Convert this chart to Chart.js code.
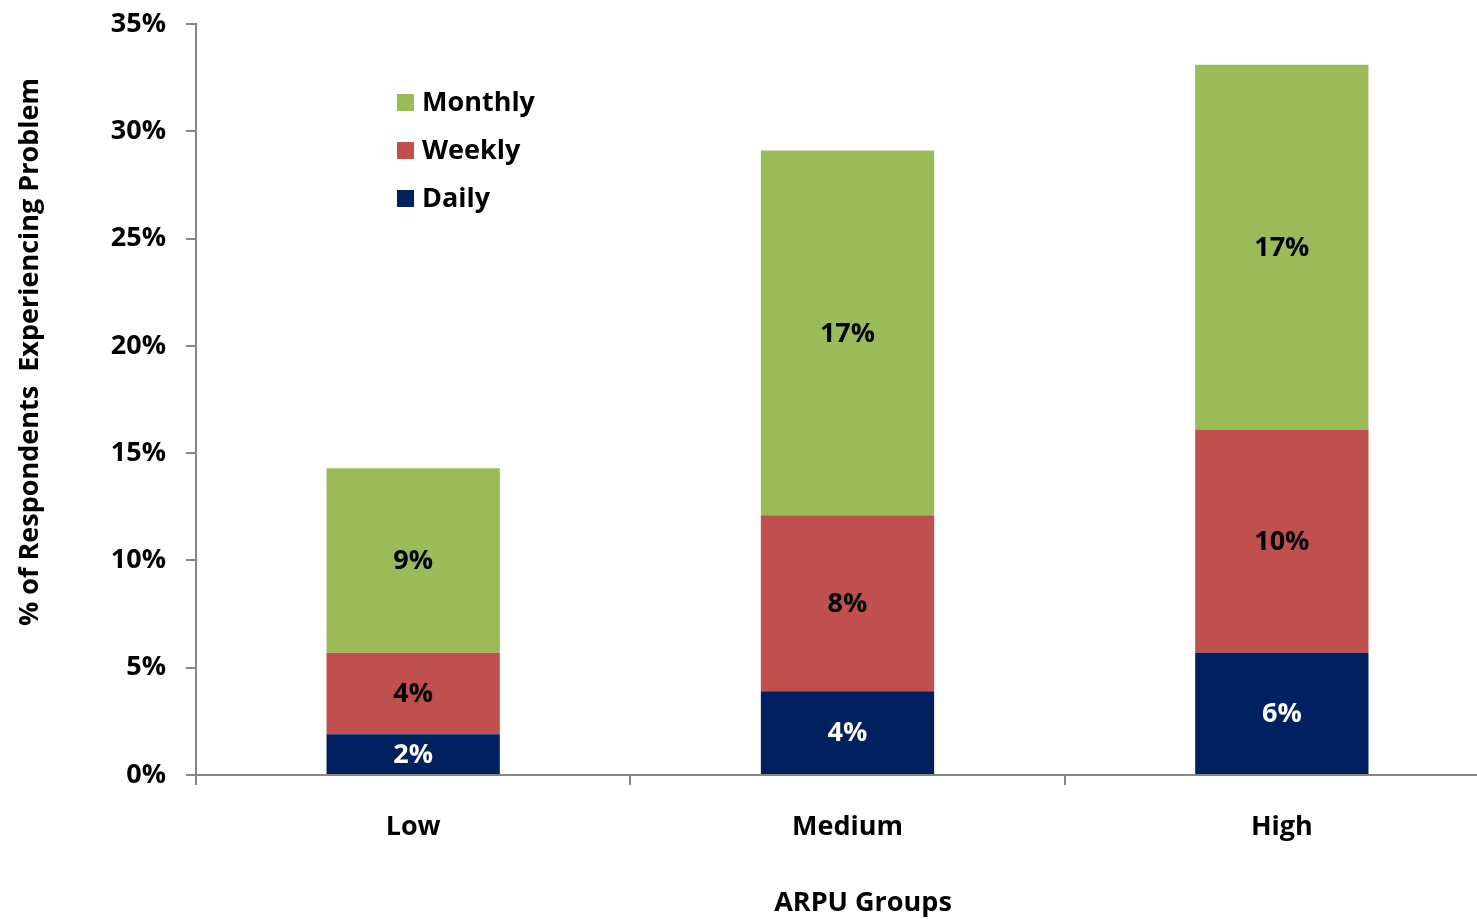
<!DOCTYPE html>
<html>
<head>
<meta charset="utf-8">
<script src="https://cdn.jsdelivr.net/npm/chart.js@4.4.1/dist/chart.umd.min.js"></script>
<style>
html,body{margin:0;padding:0;background:#fff;overflow:hidden;}
#wrap{position:relative;width:1477px;height:919px;overflow:hidden;}
#c{position:absolute;left:0;top:0;}
</style>
</head>
<body>
<div id="wrap"><canvas id="c" width="1499" height="919"></canvas></div>
<script>
const categories = ['Low', 'Medium', 'High'];
const dailyValues = [1.9, 3.9, 5.7];
const weeklyValues = [3.8, 8.2, 10.4];
const monthlyValues = [8.6, 17.0, 17.0];
const yTickValues = [0, 5, 10, 15, 20, 25, 30, 35];
const yAxisTitle = '% of Respondents  Experiencing Problem';
const xAxisTitle = 'ARPU Groups';

const FONT = "'Open Sans', 'Liberation Sans', sans-serif";
const AXIS_COLOR = '#868686';
const FS = 27;

const datasets = [
  {label: 'Daily', data: dailyValues, backgroundColor: '#002060', labelColor: '#ffffff'},
  {label: 'Weekly', data: weeklyValues, backgroundColor: '#C0504D', labelColor: '#000000'},
  {label: 'Monthly', data: monthlyValues, backgroundColor: '#9BBB59', labelColor: '#000000'}
];

const overlayPlugin = {
  id: 'overlay',
  afterDatasetsDraw(chart) {
    const ctx = chart.ctx;
    ctx.save();
    ctx.font = "bold " + FS + "px " + FONT;
    ctx.textAlign = 'center';
    ctx.textBaseline = 'middle';
    chart.data.datasets.forEach((ds, i) => {
      const meta = chart.getDatasetMeta(i);
      meta.data.forEach((bar, j) => {
        const v = ds.data[j];
        const yc = (bar.y + bar.base) / 2;
        ctx.fillStyle = ds.labelColor;
        ctx.fillText(Math.round(v) + '%', bar.x, yc + 1);
      });
    });
    // legend (reverse order: Monthly, Weekly, Daily)
    const legendItems = chart.data.datasets.slice().reverse();
    ctx.textAlign = 'left';
    legendItems.forEach((ds, k) => {
      const cy = 102 + k * 48;
      ctx.fillStyle = ds.backgroundColor;
      ctx.fillRect(397, cy - 8, 17, 17);
      ctx.fillStyle = '#000';
      ctx.fillText(ds.label, 422, cy + 1);
    });
    // axis titles
    ctx.textAlign = 'center';
    ctx.fillStyle = '#000';
    ctx.fillText(xAxisTitle, 863, 903);
    ctx.translate(30, 352);
    ctx.rotate(-Math.PI / 2);
    ctx.fillText(yAxisTitle, 0, 0);
    ctx.restore();
  }
};

new Chart(document.getElementById('c'), {
  type: 'bar',
  data: {
    labels: categories,
    datasets: datasets.map(d => ({
      label: d.label,
      data: d.data,
      backgroundColor: d.backgroundColor,
      labelColor: d.labelColor,
      borderWidth: 0,
      barPercentage: 0.399,
      categoryPercentage: 1.0
    }))
  },
  options: {
    responsive: false,
    animation: false,
    devicePixelRatio: 1,
    layout: {padding: {top: 24, right: 0, left: 0, bottom: 0}},
    plugins: {legend: {display: false}, tooltip: {enabled: false}},
    scales: {
      x: {
        stacked: true,
        afterFit(scale) { scale.height = 144; scale.paddingRight = 0; scale.paddingLeft = 0; },
        border: {color: AXIS_COLOR, width: 2},
        grid: {offset: true, drawOnChartArea: false, drawTicks: true, tickLength: 10, color: AXIS_COLOR, lineWidth: 2},
        ticks: {color: '#000', font: {family: FONT, size: FS, weight: 'bold'}, padding: 26}
      },
      y: {
        stacked: true,
        min: 0,
        max: 35,
        afterFit(scale) { scale.width = 196; scale.paddingTop = 0; scale.paddingBottom = 0; },
        afterBuildTicks(scale) { scale.ticks = yTickValues.map(v => ({value: v})); },
        border: {color: AXIS_COLOR, width: 2},
        grid: {drawOnChartArea: false, drawTicks: true, tickLength: 10, color: AXIS_COLOR, lineWidth: 2},
        ticks: {color: '#000', font: {family: FONT, size: FS, weight: 'bold'}, padding: 20,
                callback: v => v + '%'}
      }
    }
  },
  plugins: [overlayPlugin]
});
</script>
</body>
</html>
